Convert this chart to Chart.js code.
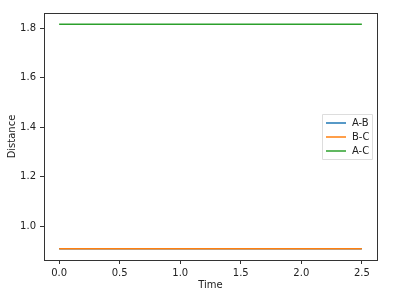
<!DOCTYPE html>
<html>
<head>
<meta charset="UTF-8">
<title>Distance vs Time</title>
<script src="https://cdn.jsdelivr.net/npm/chart.js@4"></script>
<style>
    html, body { margin: 0; padding: 0; background: #fff; }
    #wrap { width: 400px; height: 295px; }
</style>
</head>
<body>
<div id="wrap"><canvas id="grafico" width="400" height="295"></canvas></div>
<script>
    const time = [0, 0.5, 1.0, 1.5, 2.0, 2.5];
    const distAB = [0.9085, 0.9085, 0.9085, 0.9085, 0.9085, 0.9085];
    const distBC = [0.9085, 0.9085, 0.9085, 0.9085, 0.9085, 0.9085];
    const distAC = [1.817, 1.817, 1.817, 1.817, 1.817, 1.817];
    const seriesNames = ['A-B', 'B-C', 'A-C'];
    const seriesColors = ['#1f77b4', '#ff7f0e', '#2ca02c'];
    const xTicks = [0, 0.5, 1.0, 1.5, 2.0, 2.5];
    const yTicks = [1.0, 1.2, 1.4, 1.6, 1.8];

    const FONT = 'DejaVu Sans';

    function toPoints(ys) {
        return time.map((t, i) => ({ x: t, y: ys[i] }));
    }

    // top/right spines plus legend box inside the axes (matplotlib style)
    const frameAndLegend = {
        id: 'frameAndLegend',
        afterDraw(chart) {
            const ctx = chart.ctx;
            const a = chart.chartArea;
            ctx.save();
            ctx.strokeStyle = '#333';
            ctx.lineWidth = 1;
            ctx.strokeRect(Math.round(a.left) + 0.5, Math.round(a.top) + 0.5,
                Math.round(a.right - a.left), Math.round(a.bottom - a.top));

            const bx = 322, by = 114, bw = 50, bh = 45;
            ctx.fillStyle = 'rgba(255,255,255,0.8)';
            ctx.strokeStyle = '#ddd';
            ctx.beginPath();
            ctx.rect(bx + 0.5, by + 0.5, bw, bh);
            ctx.fill();
            ctx.stroke();
            ctx.font = '10px ' + FONT;
            ctx.textBaseline = 'middle';
            chart.data.datasets.forEach((ds, i) => {
                const y = by + 9 + i * 14;
                ctx.strokeStyle = ds.borderColor;
                ctx.lineWidth = 1.5;
                ctx.beginPath();
                ctx.moveTo(bx + 4, y);
                ctx.lineTo(bx + 24, y);
                ctx.stroke();
                ctx.fillStyle = '#222';
                ctx.fillText(ds.label, bx + 30, y);
            });
            ctx.restore();
        }
    };

    new Chart(document.getElementById('grafico'), {
        type: 'line',
        data: {
            datasets: [
                { label: seriesNames[0], data: toPoints(distAB), borderColor: seriesColors[0], order: 3 },
                { label: seriesNames[1], data: toPoints(distBC), borderColor: seriesColors[1], order: 2 },
                { label: seriesNames[2], data: toPoints(distAC), borderColor: seriesColors[2], order: 1 }
            ].map(d => Object.assign(d, { borderWidth: 1.5, pointRadius: 0, fill: false, tension: 0 }))
        },
        options: {
            responsive: false,
            animation: false,
            layout: { padding: { top: 13, right: 23, left: 0, bottom: 0 } },
            plugins: {
                legend: { display: false },
                tooltip: { enabled: false }
            },
            scales: {
                x: {
                    type: 'linear',
                    min: -0.125,
                    max: 2.625,
                    afterBuildTicks: s => { s.ticks = xTicks.map(v => ({ value: v })); },
                    afterFit: s => { s.height = 35; },
                    grid: { drawOnChartArea: false, drawTicks: true, tickLength: 4, color: '#333' },
                    border: { display: true, color: '#333' },
                    ticks: {
                        color: '#222', padding: 3, maxRotation: 0,
                        font: { family: FONT, size: 10 },
                        callback: v => v.toFixed(1)
                    },
                    title: {
                        display: true, text: 'Time', color: '#222', padding: { top: 0, bottom: 4 },
                        font: { family: FONT, size: 10 }
                    }
                },
                y: {
                    type: 'linear',
                    min: 0.8635,
                    max: 1.8625,
                    afterBuildTicks: s => { s.ticks = yTicks.map(v => ({ value: v })); },
                    afterFit: s => { s.width = 44; },
                    grid: { drawOnChartArea: false, drawTicks: true, tickLength: 4, color: '#333' },
                    border: { display: true, color: '#333' },
                    ticks: {
                        color: '#222', padding: 4,
                        font: { family: FONT, size: 10 },
                        callback: v => v.toFixed(1)
                    },
                    title: {
                        display: true, text: 'Distance', color: '#222', padding: { top: 6, bottom: 0 },
                        font: { family: FONT, size: 10 }
                    }
                }
            }
        },
        plugins: [frameAndLegend]
    });
</script>
</body>
</html>
